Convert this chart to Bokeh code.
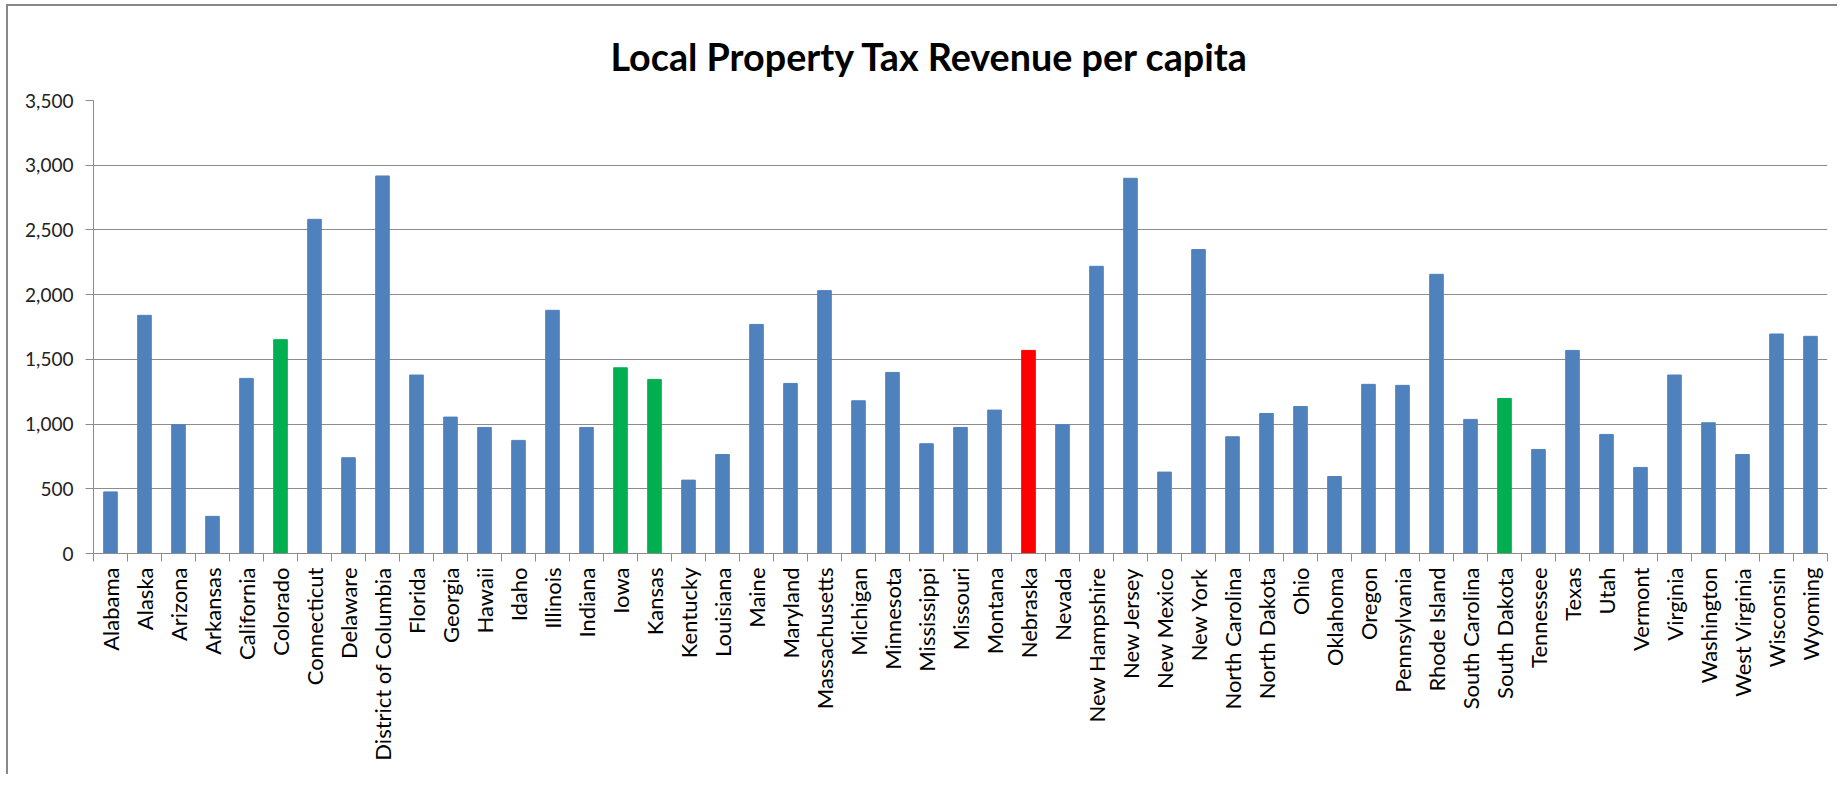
import numpy as np
from bokeh.plotting import figure
from bokeh.models import Range1d, FixedTicker, ColumnDataSource
from bokeh.embed import file_html
from bokeh.resources import INLINE

# ---- data ----
states = ["Alabama", "Alaska", "Arizona", "Arkansas", "California", "Colorado",
          "Connecticut", "Delaware", "District of Columbia", "Florida", "Georgia",
          "Hawaii", "Idaho", "Illinois", "Indiana", "Iowa", "Kansas", "Kentucky",
          "Louisiana", "Maine", "Maryland", "Massachusetts", "Michigan", "Minnesota",
          "Mississippi", "Missouri", "Montana", "Nebraska", "Nevada", "New Hampshire",
          "New Jersey", "New Mexico", "New York", "North Carolina", "North Dakota",
          "Ohio", "Oklahoma", "Oregon", "Pennsylvania", "Rhode Island",
          "South Carolina", "South Dakota", "Tennessee", "Texas", "Utah", "Vermont",
          "Virginia", "Washington", "West Virginia", "Wisconsin", "Wyoming"]
revenue = [476, 1840, 994, 287, 1353, 1652,
           2582, 740, 2917, 1379, 1054,
           974, 874, 1879, 974, 1435, 1345, 567,
           765, 1770, 1314, 2031, 1180, 1399,
           848, 974, 1108, 1569, 994, 2219,
           2899, 629, 2348, 902, 1082,
           1136, 595, 1307, 1299, 2157,
           1036, 1198, 804, 1569, 920, 665,
           1379, 1010, 765, 1696, 1678]
green_states = ["Colorado", "Iowa", "Kansas", "South Dakota"]
red_states = ["Nebraska"]
y_ticks = [0, 500, 1000, 1500, 2000, 2500, 3000, 3500]
y_tick_labels = ["0", "500", "1,000", "1,500", "2,000", "2,500", "3,000", "3,500"]
title_text = "Local Property Tax Revenue per capita"

BLUE = "#4F81BD"
GREEN = "#00B050"
RED = "#FF0000"
GRID = "#8C8C8C"

n = len(states)
centers = [i + 0.5 for i in range(n)]
colors = [GREEN if s in green_states else RED if s in red_states else BLUE for s in states]

src = ColumnDataSource(dict(x=centers, top=revenue, color=colors, state=states))

p = figure(width=1831, height=770,
           x_range=Range1d(0, n), y_range=Range1d(0, 3500),
           output_backend="svg", toolbar_location=None,
           min_border_left=85, min_border_right=12,
           min_border_top=94, min_border_bottom=223,
           styles={"margin-left": "6px", "margin-top": "4px",
                   "border-left": "2px solid #888888", "border-top": "2px solid #888888"})

p.vbar(x="x", top="top", width=0.4, fill_color="color", line_color="color",
       line_width=1, source=src)

# title
p.title.text = title_text
p.title.text_font = "Lato"
p.title.text_font_style = "bold"
p.title.text_font_size = "37.7px"
p.title.align = "left"
p.title.offset = 517
p.title.standoff = 44
p.title.text_color = "#000000"

# axes
xa = p.xaxis[0]
xa.ticker = FixedTicker(ticks=centers, minor_ticks=list(range(n + 1)))
xa.major_label_overrides = {c: s for c, s in zip(centers, states)}
xa.major_label_orientation = np.pi / 2
xa.major_tick_out = 0
xa.major_tick_in = 0
xa.minor_tick_out = 8
xa.minor_tick_in = 0
xa.minor_tick_line_color = GRID
xa.axis_line_color = GRID
xa.major_label_standoff = 6
xa.major_label_text_font = "Lato"
xa.major_label_text_font_size = "22px"
xa.major_label_text_color = "#000000"

ya = p.yaxis[0]
ya.ticker = FixedTicker(ticks=y_ticks)
ya.major_label_overrides = {t: l for t, l in zip(y_ticks, y_tick_labels)}
ya.major_tick_out = 8
ya.major_tick_in = 0
ya.minor_tick_out = 0
ya.minor_tick_in = 0
ya.major_tick_line_color = GRID
ya.axis_line_color = GRID
ya.major_label_standoff = 12
ya.major_label_text_font = "Lato"
ya.major_label_text_font_size = "19px"
ya.major_label_text_color = "#222222"

p.xgrid.grid_line_color = None
p.ygrid.ticker = FixedTicker(ticks=y_ticks)
p.ygrid.grid_line_color = GRID
p.ygrid.grid_line_width = 1
p.outline_line_color = None
p.background_fill_color = "white"
p.border_fill_color = "white"

open("out.html", "w").write(file_html(p, INLINE))
